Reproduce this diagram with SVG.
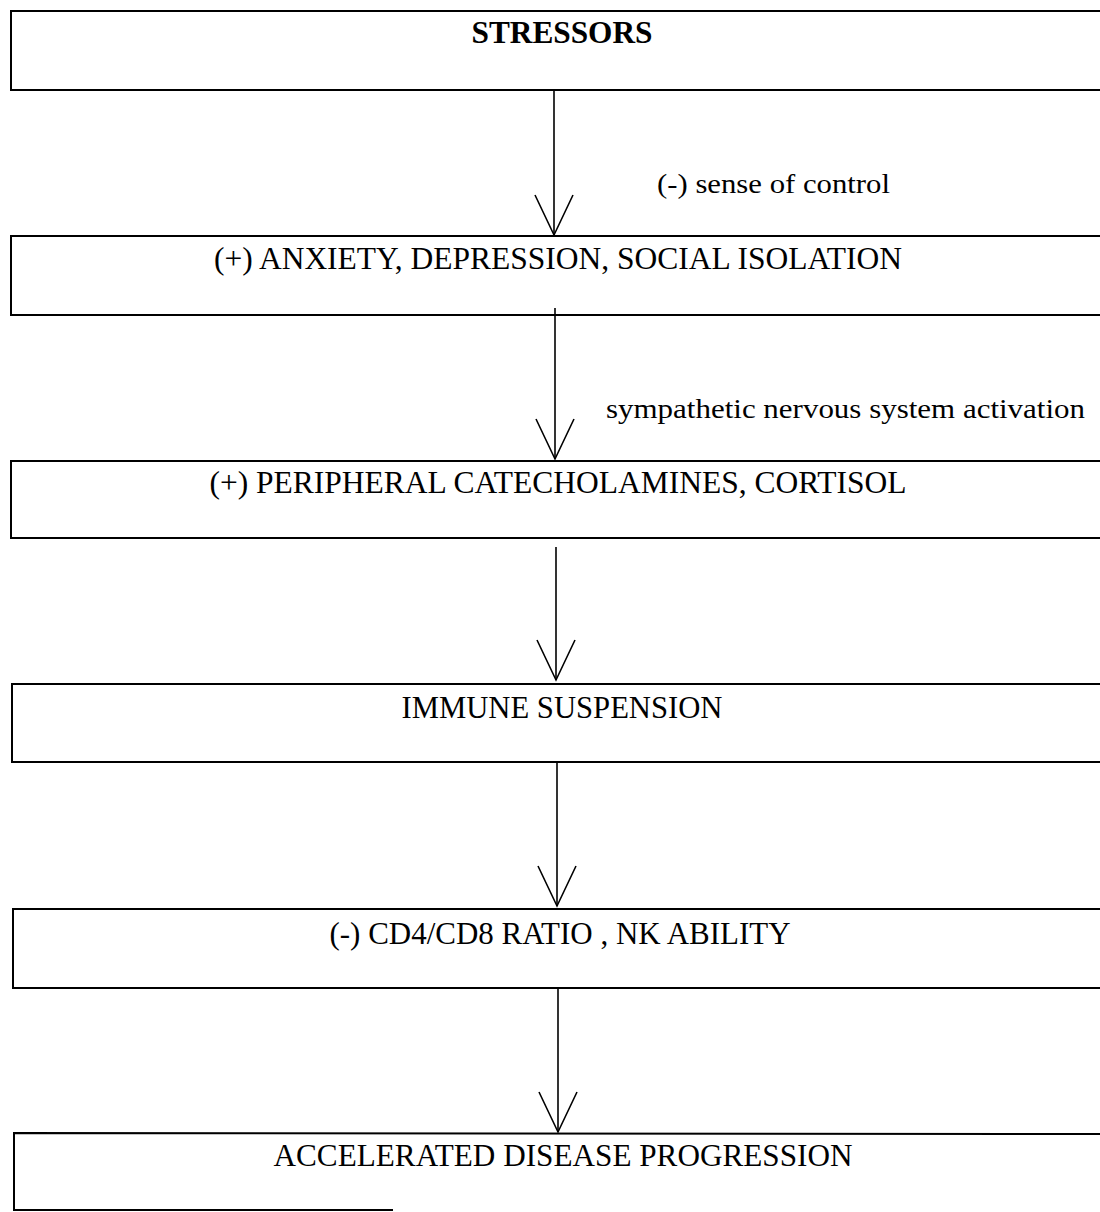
<svg xmlns="http://www.w3.org/2000/svg" width="1100" height="1212" viewBox="0 0 1100 1212">
<style>
.box{fill:none;stroke:#000;stroke-width:2}
.t{font-family:"Liberation Serif","Times New Roman",serif;font-size:32px;fill:#000;text-anchor:middle}
.b{font-weight:bold}
.lbl{font-family:"Liberation Serif","Times New Roman",serif;font-size:28px;fill:#000}
.conn{fill:none;stroke:#000;stroke-width:1.6;marker-end:url(#v)}
</style>
<defs>
<marker id="v" markerUnits="userSpaceOnUse" markerWidth="46" markerHeight="46" viewBox="0 -23 46 46" refX="41" refY="0" orient="auto">
<path d="M1,-19 L41,0 L1,19" fill="none" stroke="#000" stroke-width="1.6"/>
</marker>
</defs>
<rect width="1100" height="1212" fill="#fff"/>
<g id="n1"><rect class="box" x="11" y="11" width="1200" height="79"/><text class="t b" x="562" y="43" textLength="181" lengthAdjust="spacingAndGlyphs">STRESSORS</text></g>
<g id="n2"><rect class="box" x="11" y="236" width="1200" height="79"/><text class="t" x="558" y="269" textLength="688" lengthAdjust="spacingAndGlyphs">(+) ANXIETY, DEPRESSION, SOCIAL ISOLATION</text></g>
<g id="n3"><rect class="box" x="11" y="461" width="1200" height="77"/><text class="t" x="558" y="493" textLength="697" lengthAdjust="spacingAndGlyphs">(+) PERIPHERAL CATECHOLAMINES, CORTISOL</text></g>
<g id="n4"><rect class="box" x="12" y="684" width="1200" height="78"/><text class="t" x="562" y="718" textLength="321" lengthAdjust="spacingAndGlyphs">IMMUNE SUSPENSION</text></g>
<g id="n5"><rect class="box" x="13" y="909" width="1200" height="79"/><text class="t" x="560" y="944" textLength="461" lengthAdjust="spacingAndGlyphs">(-) CD4/CD8 RATIO , NK ABILITY</text></g>
<g id="n6"><path class="box" d="M1100,1134 L14,1133 L14,1210 L393,1210"/><text class="t" x="563" y="1166" textLength="579" lengthAdjust="spacingAndGlyphs">ACCELERATED DISEASE PROGRESSION</text></g>
<g id="connectors">
<line class="conn" x1="554" y1="90" x2="554" y2="235"/>
<line class="conn" x1="555" y1="308" x2="555" y2="459"/>
<line class="conn" x1="556" y1="547" x2="556" y2="680"/>
<line class="conn" x1="557" y1="762" x2="557" y2="906"/>
<line class="conn" x1="558" y1="988" x2="558" y2="1132"/>
<text class="lbl" x="657" y="193" textLength="233" lengthAdjust="spacingAndGlyphs">(-) sense of control</text>
<text class="lbl" x="606" y="418" textLength="479" lengthAdjust="spacingAndGlyphs">sympathetic nervous system activation</text>
</g>
</svg>
